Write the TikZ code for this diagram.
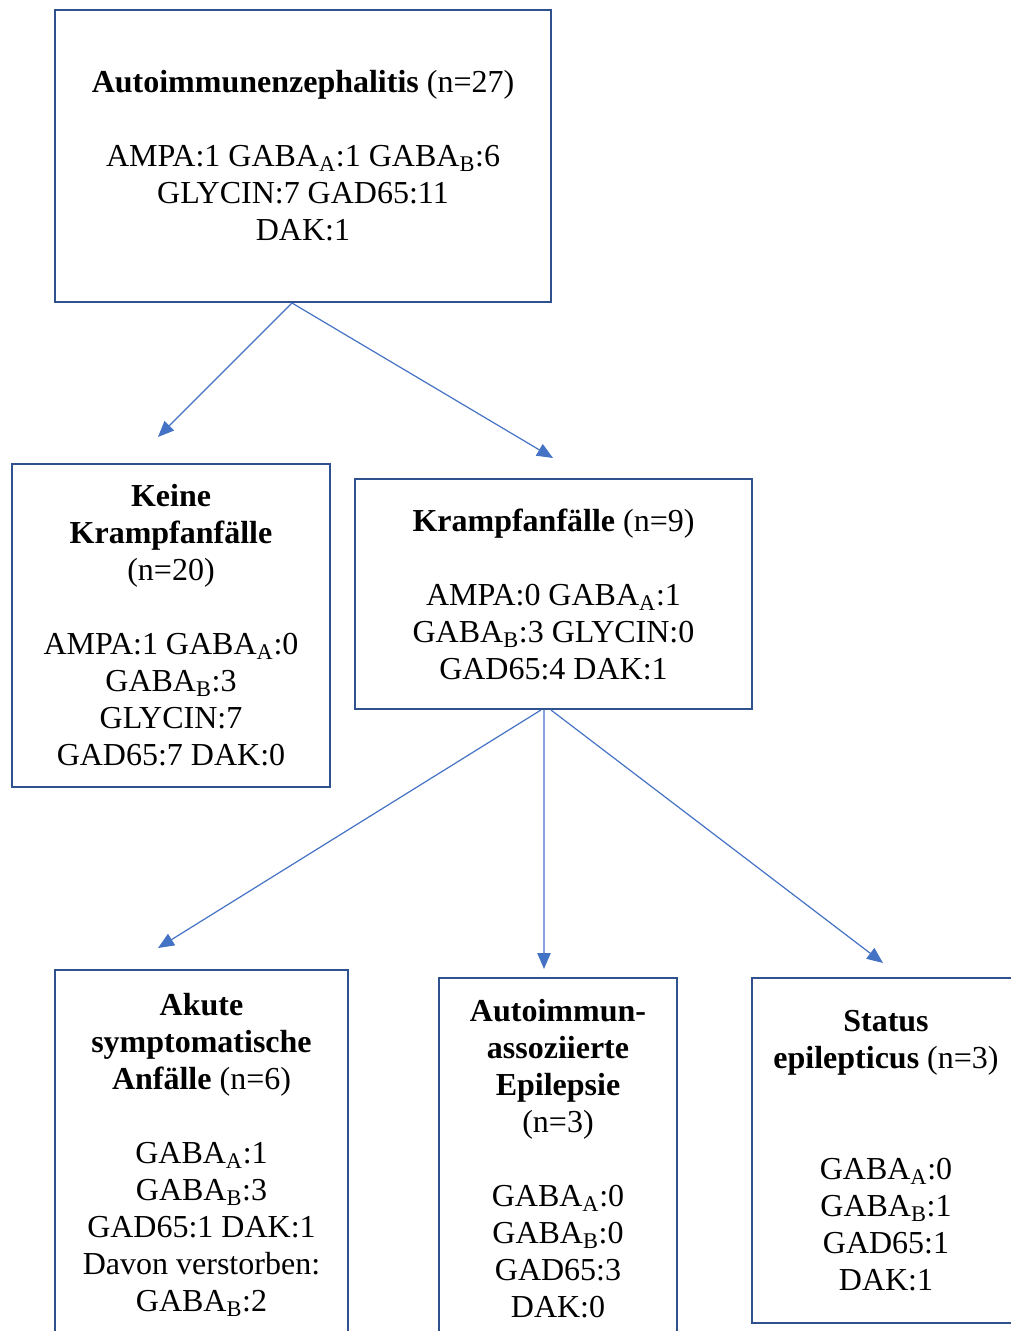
\documentclass[tikz,border=0pt]{standalone}
\usepackage{fontspec}
\setmainfont{Liberation Serif}
\usetikzlibrary{arrows.meta}
\definecolor{boxblue}{HTML}{2F528F}
\definecolor{arrowblue}{HTML}{4472C4}
\newcommand{\gabaA}{GABA\textsubscript{A}}
\newcommand{\gabaB}{GABA\textsubscript{B}}

\begin{document}
\begin{tikzpicture}[
    x=0.75pt, y=-0.75pt,
    box/.style 2 args={draw=boxblue,line width=1.5pt,inner sep=0pt,align=center,
      minimum width=#1*0.75pt,minimum height=#2*0.75pt,font=\fontsize{24}{27.75}\selectfont},
    link/.style={-{Triangle[length=12pt,width=10pt]},arrowblue,line width=0.9pt},
  ]
  \useasboundingbox (0,0) rectangle (1010,1331);

  % boxes
  \node[box={496}{292}] (top) at (303,156)
    {\textbf{Autoimmunenzephalitis} (n=27)\\[27.75pt]
     AMPA:1 \gabaA:1 \gabaB:6\\ GLYCIN:7 GAD65:11\\ DAK:1};
  \node[box={318}{323}] (none) at (171,625.5)
    {\textbf{Keine}\\ \textbf{Krampfanfälle}\\ (n=20)\\[27.75pt]
     AMPA:1 \gabaA:0\\ \gabaB:3\\ GLYCIN:7\\ GAD65:7 DAK:0};
  \node[box={397}{230}] (seiz) at (553.5,594)
    {\textbf{Krampfanfälle} (n=9)\\[27.75pt]
     AMPA:0 \gabaA:1\\ \gabaB:3 GLYCIN:0\\ GAD65:4 DAK:1};
  \node[box={293}{369}] (acute) at (201.5,1154.5)
    {\textbf{Akute}\\ \textbf{symptomatische}\\ \textbf{Anfälle} (n=6)\\[27.75pt]
     \gabaA:1\\ \gabaB:3\\ GAD65:1 DAK:1\\ Davon verstorben:\\ \gabaB:2};
  \node[box={238}{361}] (epil) at (558,1158.5)
    {\textbf{Autoimmun-}\\ \textbf{assoziierte}\\ \textbf{Epilepsie}\\ (n=3)\\[27.75pt]
     \gabaA:0\\ \gabaB:0\\ GAD65:3\\ DAK:0};
  \node[box={268}{345}] (status) at (886,1150.5)
    {\textbf{Status}\\ \textbf{epilepticus} (n=3)\\[55.5pt]
     \gabaA:0\\ \gabaB:1\\ GAD65:1\\ DAK:1};

  % arrow tips
  \coordinate (tipNone) at (158,437);
  \coordinate (tipSeiz) at (553,458);
  \coordinate (tipAcute) at (158,948);
  \coordinate (tipEpil) at (544,969);
  \coordinate (tipStatus) at (883,963);

  \draw[link] ([xshift=-8.25pt]top.south) -- (tipNone);
  \draw[link] ([xshift=-8.25pt]top.south) -- (tipSeiz);
  \draw[link] ([xshift=-9.4pt]seiz.south) -- (tipAcute);
  \draw[link] ([xshift=-7.1pt]seiz.south) -- (tipEpil);
  \draw[link] ([xshift=-1.9pt]seiz.south) -- (tipStatus);
\end{tikzpicture}
\end{document}
